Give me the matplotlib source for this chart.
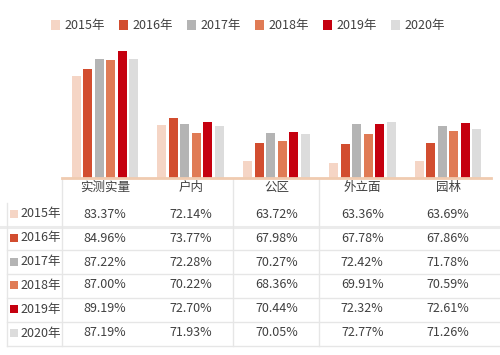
import matplotlib
matplotlib.use('Agg')
import matplotlib.pyplot as plt
import numpy as np
from matplotlib.patches import Patch, Rectangle

plt.rcParams['font.family'] = ['Noto Sans CJK SC', 'DejaVu Sans']

# data
categories = ['实测实量', '户内', '公区', '外立面', '园林']
years = ['2015年', '2016年', '2017年', '2018年', '2019年', '2020年']
v2015 = [83.37, 72.14, 63.72, 63.36, 63.69]
v2016 = [84.96, 73.77, 67.98, 67.78, 67.86]
v2017 = [87.22, 72.28, 70.27, 72.42, 71.78]
v2018 = [87.00, 70.22, 68.36, 69.91, 70.59]
v2019 = [89.19, 72.70, 70.44, 72.32, 72.61]
v2020 = [87.19, 71.93, 70.05, 72.77, 71.26]
series = [v2015, v2016, v2017, v2018, v2019, v2020]
colors = ['#F5D5C5', '#D24D2F', '#B4B4B4', '#E07B55', '#C5000F', '#DCDCDC']
txt = '#404040'

W, H = 500, 355
fig = plt.figure(figsize=(W / 100, H / 100), dpi=100)

# table layer in pixel coordinates
tb = fig.add_axes([0, 0, 1, 1])
tb.set_xlim(0, W)
tb.set_ylim(H, 0)
tb.axis('off')

# bar chart
left, right, base, top = 62, 491, 177.5, 40
ax = fig.add_axes([left / W, (H - base) / H, (right - left) / W, (base - top) / H])
ax.patch.set_alpha(0)
x = np.arange(len(categories))
bw = 0.105
step = 0.134
for i, (vals, c) in enumerate(zip(series, colors)):
    ax.bar(x + (i - 2.5) * step, vals, width=bw, color=c, bottom=0, zorder=2)
ax.set_xlim(-0.5, len(categories) - 0.5)
ax.set_ylim(60, 60 + (base - top) / 4.346)
for s in ['top', 'right', 'left']:
    ax.spines[s].set_visible(False)
ax.spines['bottom'].set_color('#F0CBB0')
ax.spines['bottom'].set_linewidth(2)
ax.spines['bottom'].set_zorder(3)
ax.set_xticks([])
ax.set_yticks([])

# legend
handles = [Patch(facecolor=c, edgecolor='none') for c in colors]
fig.legend(handles, years, loc='center', bbox_to_anchor=(248 / W, 1 - 26 / H),
           ncol=6, frameon=False, fontsize=9, handlelength=0.75, handleheight=0.9,
           handletextpad=0.35, columnspacing=1.1, labelcolor=txt)

# table
colw = (right - left) / len(categories)
centers = [left + colw * (k + 0.5) for k in range(len(categories))]
header_y = 187
row_y = [214, 238, 262, 285, 309, 333]
line_y = [227, 250, 274, 298, 322, 346]
lc = '#E6E6E6'

for cx, name in zip(centers, categories):
    tb.text(cx, header_y, name, ha='center', va='center', fontsize=9, color=txt)

for ly in line_y:
    if ly == 227:
        tb.plot([0, W], [ly, ly], color='#EBEBEB', lw=2.2)
    else:
        tb.plot([7, W], [ly, ly], color=lc, lw=1)
tb.plot([7, 7], [203, 346], color=lc, lw=1)
for vx in [62, 233, 319]:
    tb.plot([vx, vx], [178, 346], color=lc, lw=1)

for i, (ry, yr, c) in enumerate(zip(row_y, years, colors)):
    tb.add_patch(Rectangle((10, ry - 4.5), 8, 8, facecolor=c, edgecolor='none'))
    tb.text(20, ry, yr, ha='left', va='center', fontsize=9, color=txt)
    for cx, v in zip(centers, series[i]):
        tb.text(cx, ry, '%.2f%%' % v, ha='center', va='center', fontsize=9, color=txt)

fig.savefig('out.png', dpi=100)
